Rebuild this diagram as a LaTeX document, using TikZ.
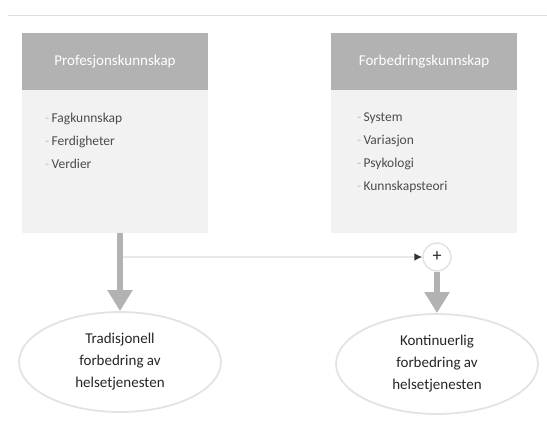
\documentclass[tikz,border=0pt]{standalone}
\usepackage{fontspec}
\setmainfont{Carlito}
\usepackage{xcolor}
\usetikzlibrary{arrows.meta, positioning, shapes.geometric}

\begin{document}
\begin{tikzpicture}[
        x=1pt, y=-1pt,
        bodynode/.style={rectangle, fill=gray!10, minimum width=186pt, minimum height=200pt, inner sep=0pt},
        headnode/.style={rectangle, fill=gray!60, text=white, minimum width=186pt, minimum height=57pt, inner sep=0pt, font=\fontsize{15}{17}\selectfont},
        listnode/.style={anchor=north west, align=left, inner sep=0pt, text=black!70, font=\fontsize{13.5}{23}\selectfont},
        goalnode/.style={ellipse, draw=gray!22, line width=1.8pt, fill=white, minimum width=202pt, minimum height=100pt, inner sep=0pt, align=center, text=black!85, font=\fontsize{15}{22}\selectfont},
        sumnode/.style={circle, draw=gray!22, line width=1.5pt, fill=white, minimum size=28pt, inner sep=0pt, text=black!85, font=\fontsize{18}{18}\selectfont},
        bigarrow/.style={-{Triangle[length=21pt, width=24pt]}, line width=6pt, draw=gray!60},
        feedline/.style={-{Latex[length=8pt, width=8pt, color=black!80]}, line width=2.5pt, draw=gray!18}
    ]
        \useasboundingbox (0,0) rectangle (547,423);
        \draw[gray!25, line width=1pt] (8,15) -- (547,15);

        % Knowledge boxes
        \node[bodynode] (lbody) at (115,133) {};
        \node[headnode] (lhead) at (115,61.5) {Profesjonskunnskap};
        \node[listnode] (llist) at (45,113) {\textcolor{gray!50}{-}\,Fagkunnskap\\ \textcolor{gray!50}{-}\,Ferdigheter\\ \textcolor{gray!50}{-}\,Verdier};

        \node[bodynode] (rbody) at (424,133) {};
        \node[headnode] (rhead) at (424,61.5) {Forbedringskunnskap};
        \node[listnode] (rlist) at (357,113) {\textcolor{gray!50}{-}\,System\\ \textcolor{gray!50}{-}\,Variasjon\\ \textcolor{gray!50}{-}\,Psykologi\\ \textcolor{gray!50}{-}\,Kunnskapsteori};

        % Improvement goals
        \node[goalnode] (trad) at (120,362) {Tradisjonell\\ forbedring av\\ helsetjenesten};
        \node[goalnode] (kont) at (437,364) {Kontinuerlig\\ forbedring av\\ helsetjenesten};
        \node[sumnode] (plus) at (437,257) {+};

        % Connections
        \coordinate (split) at (trad.north |- plus);
        \draw[feedline] (split) -- (plus.west);
        \draw[bigarrow] (trad.north |- lbody.south) -- (trad.north);
        \draw[bigarrow] (plus.south) -- (kont.north);
    \end{tikzpicture}
\end{document}
